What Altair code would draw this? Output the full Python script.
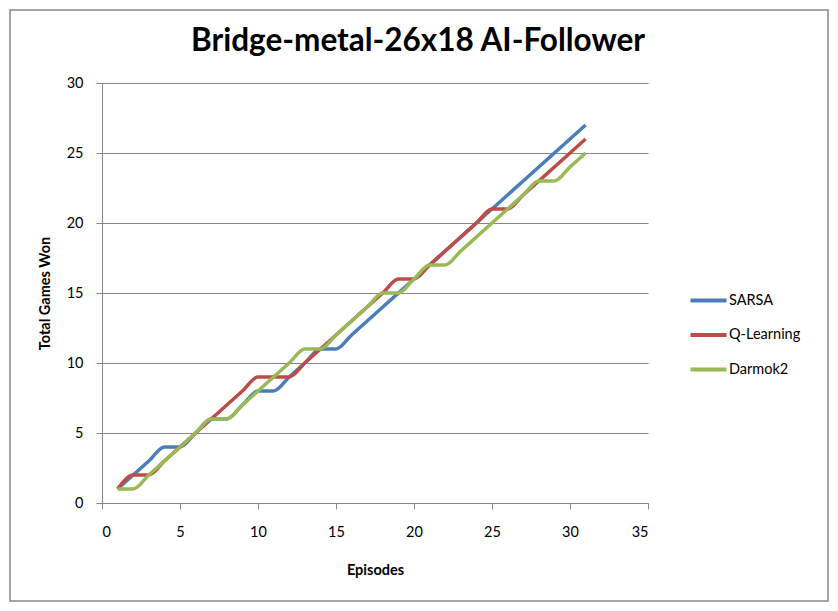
import altair as alt
import pandas as pd

episodes = [1, 2, 3, 4, 5, 6, 7, 8, 9, 10, 11, 12, 13, 14, 15, 16, 17, 18, 19, 20,
            21, 22, 23, 24, 25, 26, 27, 28, 29, 30, 31]
sarsa = [1, 2, 3, 4, 4, 5, 6, 6, 7, 8, 8, 9, 10, 11, 11, 12, 13, 14, 15, 16,
         17, 18, 19, 20, 21, 22, 23, 24, 25, 26, 27]
qlearning = [1, 2, 2, 3, 4, 5, 6, 7, 8, 9, 9, 9, 10, 11, 12, 13, 14, 15, 16, 16,
             17, 18, 19, 20, 21, 21, 22, 23, 24, 25, 26]
darmok2 = [1, 1, 2, 3, 4, 5, 6, 6, 7, 8, 9, 10, 11, 11, 12, 13, 14, 15, 15, 16,
           17, 17, 18, 19, 20, 21, 22, 23, 23, 24, 25]
series_names = ["SARSA", "Q-Learning", "Darmok2"]
series_colors = ["#4A7EBB", "#BE4B48", "#98B954"]
title_text = "Bridge-metal-26x18 AI-Follower"

rows = []
for order, (name, vals) in enumerate(zip(series_names, [sarsa, qlearning, darmok2])):
    for e, v in zip(episodes, vals):
        rows.append({"Episode": e, "Won": v, "Series": name, "ord": order})
df = pd.DataFrame(rows)

FONT = "Lato"
GRAY = "#868686"

lines = alt.Chart(df).mark_line(interpolate="monotone", strokeWidth=3.5).encode(
    x=alt.X("Episode:Q", scale=alt.Scale(domain=[0, 35], nice=False),
            axis=alt.Axis(values=[0, 5, 10, 15, 20, 25, 30, 35], title="Episodes",
                          grid=False, tickSize=6, domainColor=GRAY, tickColor=GRAY,
                          labelFontSize=14.5, labelFont=FONT, labelColor="black",
                          labelPadding=16, titleFont=FONT, titleFontSize=14.5,
                          titleFontWeight="bold", titlePadding=25)),
    y=alt.Y("Won:Q", scale=alt.Scale(domain=[0, 30], nice=False),
            axis=alt.Axis(values=[0, 5, 10, 15, 20, 25, 30], title="Total Games Won",
                          grid=True, gridColor=GRAY, tickSize=6, domainColor=GRAY,
                          tickColor=GRAY, labelFontSize=14.5, labelFont=FONT,
                          labelColor="black", labelPadding=13, titleFont=FONT,
                          titleFontSize=14.5, titleFontWeight="bold", titlePadding=14)),
    color=alt.Color("Series:N",
                    scale=alt.Scale(domain=series_names, range=series_colors),
                    legend=alt.Legend(title=None, orient="none", legendX=586, legendY=197,
                                      symbolType="stroke", symbolSize=1300,
                                      symbolStrokeWidth=4, labelFont=FONT,
                                      labelFontSize=14.5, labelColor="black",
                                      rowPadding=5.5, labelOffset=0)),
    order=alt.Order("ord:Q"),
)

base_one = alt.Chart(df).transform_filter((alt.datum.Episode == 1) & (alt.datum.ord == 0))

frame = base_one.mark_rect(fillOpacity=0, stroke=GRAY, strokeWidth=1.5).encode(
    x=alt.value(-92), x2=alt.value(726), y=alt.value(-73), y2=alt.value(518)
)

title = base_one.mark_text(font=FONT, fontSize=31.5, fontWeight="bold", color="black",
                           align="center", baseline="middle").encode(
    x=alt.value(316), y=alt.value(-41), text=alt.value(title_text)
)

chart = alt.layer(frame, title, lines).properties(
    width=546, height=420,
    autosize=alt.AutoSizeParams(type="none"),
    padding={"left": 94, "top": 75, "right": 182, "bottom": 100},
).configure_view(stroke=None).configure_axisX(domainWidth=1).configure_axisY(domainWidth=1)

chart.save("out.html", embed_options={"renderer": "svg", "actions": False})
